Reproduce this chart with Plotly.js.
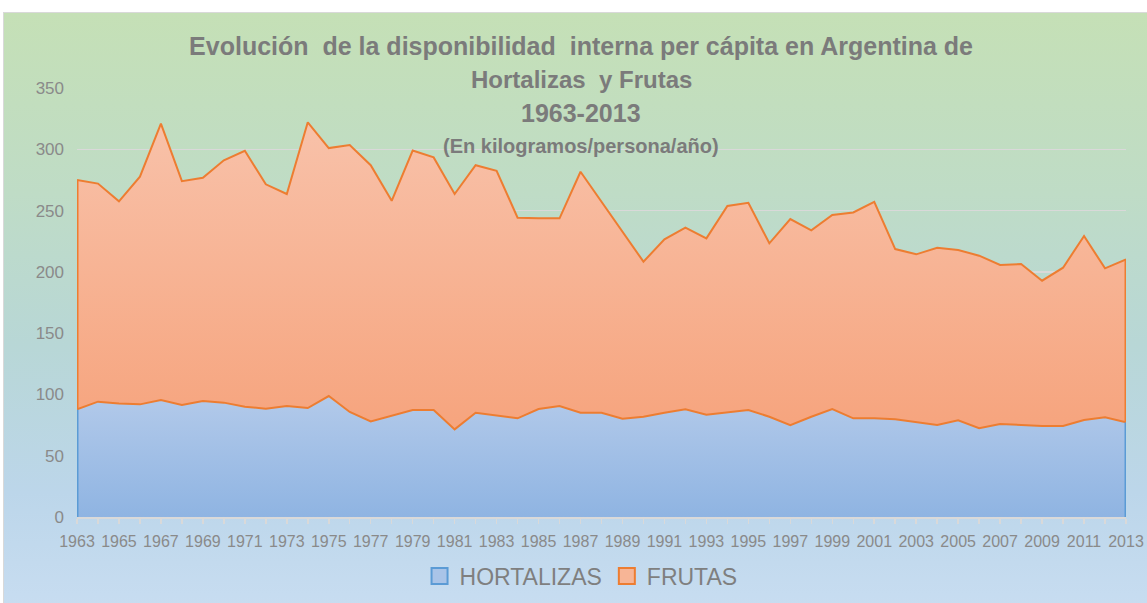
<!DOCTYPE html>
<html>
<head>
<meta charset="utf-8">
<script src="https://cdn.plot.ly/plotly-3.0.1.min.js"></script>
<style>
  html, body { margin: 0; padding: 0; background: #ffffff; }
  #wrap { position: relative; width: 1147px; height: 603px; overflow: hidden; }
  #bg { position: absolute; left: 3px; top: 12px; width: 1150px; height: 600px;
        border: 1px solid #d9d9d9;
        background: linear-gradient(to bottom, #c5e0b6 0%, #bfdcc6 30%, #b8d7d6 55%, #bcd6ea 80%, #c8ddf1 100%); }
  #chart { position: absolute; left: 0; top: 0; width: 1147px; height: 603px; }
</style>
</head>
<body>
<div id="wrap">
  <div id="bg"></div>
  <div id="chart"></div>
</div>
<script>
const years = [1963,1964,1965,1966,1967,1968,1969,1970,1971,1972,
               1973,1974,1975,1976,1977,1978,1979,1980,1981,1982,
               1983,1984,1985,1986,1987,1988,1989,1990,1991,1992,
               1993,1994,1995,1996,1997,1998,1999,2000,2001,2002,
               2003,2004,2005,2006,2007,2008,2009,2010,2011,2012,2013];

const hortalizas = [87.8,94.1,92.7,91.9,95.4,91.4,94.6,93.3,90.0,88.4,
                    90.5,88.9,98.7,85.7,78.0,82.7,87.3,87.3,71.5,85.1,
                    82.7,80.5,88.1,90.5,85.1,85.1,80.2,81.8,85.1,87.8,
                    83.5,85.1,87.3,81.8,75.0,81.8,88.1,80.5,80.5,79.7,
                    77.2,75.0,78.9,72.4,75.9,75.0,74.2,74.2,79.1,81.3,77.2];

const frutas = [187.1,177.9,164.8,185.7,225.6,182.6,182.2,197.7,208.8,183.0,
                173.0,233.1,202.3,217.8,209.0,175.3,211.7,206.1,192.0,201.9,
                199.8,163.7,155.6,153.2,196.6,171.9,152.5,126.5,141.4,148.2,
                143.8,168.6,169.1,141.5,168.1,152.0,158.3,168.0,176.7,138.9,
                137.1,144.7,138.9,140.8,129.7,131.4,118.6,129.2,150.1,121.6,133.0];

const seriesNames = ['HORTALIZAS', 'FRUTAS'];
const yTicks = [0, 50, 100, 150, 200, 250, 300, 350];

const titleLine1 = 'Evolución  de la disponibilidad  interna per cápita en Argentina de';
const titleLine2 = 'Hortalizas  y Frutas';
const titleLine3 = '1963-2013';
const titleLine4 = '(En kilogramos/persona/año)';

const ORANGE = '#ed7d31';
const BLUE = '#5b9bd5';
const n = years.length;
const first = 0, last = n - 1;

const traces = [
  {
    x: years, y: hortalizas, name: seriesNames[0], type: 'scatter', mode: 'lines',
    stackgroup: 'one', showlegend: false, hoverinfo: 'x+y+name',
    line: { color: ORANGE, width: 2 },
    fillgradient: { type: 'vertical', start: 0, stop: 100,
      colorscale: [[0, '#8fb4e2'], [1, '#b3caea']] }
  },
  {
    x: years, y: frutas, name: seriesNames[1], type: 'scatter', mode: 'lines',
    stackgroup: 'one', showlegend: false, hoverinfo: 'x+y+name',
    line: { color: ORANGE, width: 2 },
    fillgradient: { type: 'vertical', start: 80, stop: 325,
      colorscale: [[0, '#f6a57f'], [1, '#f8c2aa']] }
  },
  // outline edges at both ends of the areas (from the data)
  { x: [years[first], years[first]], y: [0, hortalizas[first]], mode: 'lines', type: 'scatter',
    line: { color: BLUE, width: 3 }, showlegend: false, hoverinfo: 'skip' },
  { x: [years[first], years[first]], y: [hortalizas[first], hortalizas[first] + frutas[first]], mode: 'lines', type: 'scatter',
    line: { color: ORANGE, width: 3 }, showlegend: false, hoverinfo: 'skip' },
  { x: [years[last], years[last]], y: [0, hortalizas[last]], mode: 'lines', type: 'scatter',
    line: { color: BLUE, width: 3 }, showlegend: false, hoverinfo: 'skip' },
  { x: [years[last], years[last]], y: [hortalizas[last], hortalizas[last] + frutas[last]], mode: 'lines', type: 'scatter',
    line: { color: ORANGE, width: 3 }, showlegend: false, hoverinfo: 'skip' },
  // legend entries
  { x: [null], y: [null], name: seriesNames[0], type: 'scatter', mode: 'markers',
    marker: { symbol: 'square', size: 16, color: '#a9c4e8', line: { color: BLUE, width: 2 } } },
  { x: [null], y: [null], name: seriesNames[1], type: 'scatter', mode: 'markers',
    marker: { symbol: 'square', size: 16, color: '#f7b596', line: { color: ORANGE, width: 2 } } }
];

const tickColor = '#8a8a8a';
const layout = {
  width: 1147, height: 603,
  margin: { l: 77, r: 21, t: 88, b: 86, pad: 0, autoexpand: false },
  paper_bgcolor: 'rgba(0,0,0,0)',
  plot_bgcolor: 'rgba(0,0,0,0)',
  font: { family: 'Liberation Sans, Arial, sans-serif', color: tickColor },
  title: {
    text: titleLine1,
    font: { family: 'Liberation Sans, Arial, sans-serif', size: 25, color: '#7b7b7b', weight: 'bold' },
    x: 0.5066, xanchor: 'center', xref: 'container',
    y: 1 - 46 / 603, yanchor: 'middle', yref: 'container'
  },
  annotations: [
    { text: '<b>' + titleLine2 + '</b>', xref: 'paper', yref: 'paper', x: 0.4805, y: (517 - 80) / 429,
      xanchor: 'center', yanchor: 'middle', showarrow: false,
      font: { family: 'Liberation Sans, Arial, sans-serif', size: 24, color: '#7b7b7b' } },
    { text: '<b>' + titleLine3 + '</b>', xref: 'paper', yref: 'paper', x: 0.4805, y: (517 - 113) / 429,
      xanchor: 'center', yanchor: 'middle', showarrow: false,
      font: { family: 'Liberation Sans, Arial, sans-serif', size: 25, color: '#7b7b7b' } },
    { text: '<b>' + titleLine4 + '</b>', xref: 'paper', yref: 'paper', x: 0.4805, y: (517 - 146) / 429,
      xanchor: 'center', yanchor: 'middle', showarrow: false,
      font: { family: 'Liberation Sans, Arial, sans-serif', size: 20, color: '#7b7b7b' } }
  ],
  xaxis: {
    range: [years[first], years[last]],
    tickmode: 'linear', tick0: 1963, dtick: 2,
    ticks: 'outside', ticklen: 5, tickwidth: 1.5, tickcolor: '#d9d9d9',
    minor: { dtick: 1, tick0: 1963, ticks: 'outside', ticklen: 5, tickwidth: 1.5, tickcolor: '#d9d9d9', showgrid: false },
    showgrid: false, zeroline: false,
    showline: true, linecolor: '#d9d9d9', linewidth: 1.5,
    tickfont: { size: 16, color: tickColor },
    ticklabelstandoff: 4,
    automargin: false,
    fixedrange: true
  },
  yaxis: {
    range: [0, 350],
    tickvals: yTicks,
    showgrid: true, gridcolor: '#d9d9d9', gridwidth: 1.5,
    zeroline: false, showline: false, ticks: '',
    tickfont: { size: 17, color: tickColor },
    ticklabelstandoff: 12,
    automargin: false,
    fixedrange: true
  },
  showlegend: true,
  legend: {
    orientation: 'h', traceorder: 'normal',
    x: 0.4805, xanchor: 'center', y: (517 - 576) / 429, yanchor: 'middle',
    font: { size: 23, color: '#7f7f7f' }, bgcolor: 'rgba(0,0,0,0)', itemsizing: 'trace'
  }
};

Plotly.newPlot('chart', traces, layout, { displayModeBar: false, staticPlot: true });
</script>
</body>
</html>
